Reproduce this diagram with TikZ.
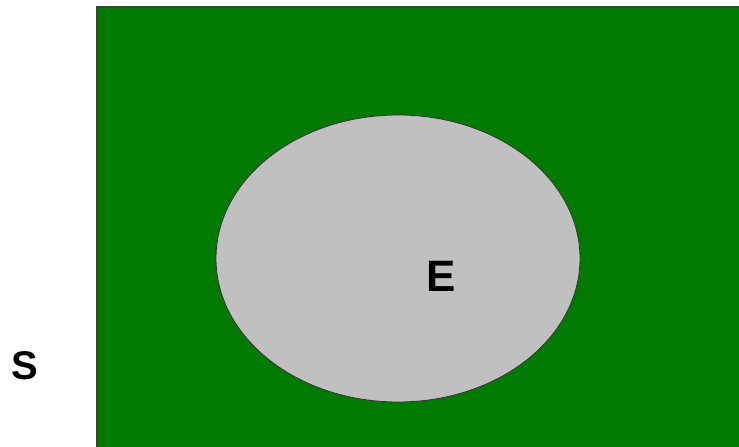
\documentclass[tikz,border=0pt]{standalone}
\usepackage{fontspec}
\setmainfont{Liberation Sans}
\usetikzlibrary{shapes.geometric}
\definecolor{vgreen}{HTML}{007A00}
\definecolor{vgray}{HTML}{C0C0C0}
\begin{document}
\begin{tikzpicture}[x=1pt,y=-1pt,
  lbl/.style={font=\fontsize{40}{40}\selectfont\bfseries, inner sep=0pt}]
\useasboundingbox (0,0) rectangle (739,447);
\fill[white] (0,0) rectangle (739,447);
\node[draw=black!75, line width=1.8pt, fill=vgreen, minimum width=660pt, minimum height=450pt, anchor=north west, inner sep=0pt] (S) at (96,6) {};
\node[draw=black!80, line width=0.8pt, fill=vgray, ellipse, minimum width=364pt, minimum height=287pt, inner sep=0pt] (E) at (398,258.5) {};
\node[lbl, font=\fontsize{44}{44}\selectfont\bfseries] (Elbl) at (441.5,276) {E};
\node[lbl] (Slbl) at (25,366) {S};
\end{tikzpicture}
\end{document}
